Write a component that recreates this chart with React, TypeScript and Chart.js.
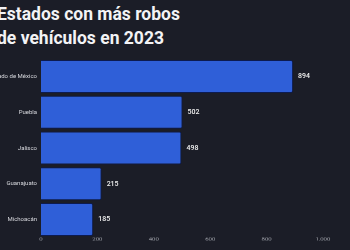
import React, { useEffect, useRef } from "react";
import { Chart, registerables } from "chart.js";

Chart.register(...registerables);

const titleLines = ["Estados con más robos", "de vehículos en 2023"];
const categories = ["Estado de México", "Puebla", "Jalisco", "Guanajuato", "Michoacán"];
const values = [894, 502, 498, 215, 185];
const xTicks = [0, 200, 400, 600, 800, 1000];

const FONT = "Roboto, sans-serif";

const valueLabels = {
  id: "valueLabels",
  afterDatasetsDraw(chart: any) {
    const ctx = chart.ctx;
    const meta = chart.getDatasetMeta(0);
    ctx.save();
    ctx.font = "500 7px " + FONT;
    ctx.fillStyle = "#f2f2f2";
    ctx.textAlign = "left";
    ctx.textBaseline = "middle";
    meta.data.forEach((bar: any, i: number) => {
      ctx.fillText(String(values[i]), bar.x + 5, bar.y);
    });
    ctx.restore();
  },
};

export default function App() {
  const ref = useRef<HTMLCanvasElement>(null);
  useEffect(() => {
    if (!ref.current) return;
    const chart = new Chart(ref.current, {
      type: "bar",
      data: {
        labels: categories,
        datasets: [
          {
            data: values,
            backgroundColor: "#2f5fd8",
            borderColor: "#0d1b4f",
            borderWidth: 1,
            borderRadius: 2,
            borderSkipped: "start",
            categoryPercentage: 1,
            barPercentage: 0.92,
          },
        ],
      },
      options: {
        indexAxis: "y",
        animation: false,
        responsive: true,
        maintainAspectRatio: false,
        layout: { padding: { top: 3, right: 10, left: 0, bottom: 0 } },
        plugins: { legend: { display: false }, tooltip: { enabled: false }, title: { display: false } },
        scales: {
          x: {
            min: 0,
            max: 1000,
            afterBuildTicks(scale: any) {
              scale.ticks = xTicks.map((v) => ({ value: v }));
            },
            grid: { display: false, drawTicks: false },
            border: { display: false },
            ticks: {
              color: "#a9abb3",
              font: { family: FONT, size: 6 },
              padding: -2,
              callback: (v: any) => Number(v).toLocaleString("en-US"),
            },
          },
          y: {
            grid: { display: false, drawTicks: false },
            border: { display: false },
            afterFit(scale: any) {
              scale.width = 49;
            },
            ticks: {
              color: "#d8d9de",
              font: { family: FONT, size: 6 },
              padding: 4,
            },
          },
        },
      },
      plugins: [valueLabels],
    });
    return () => chart.destroy();
  }, []);

  return (
    <div style={{ position: "fixed", left: 0, top: 0, width: 350, height: 250, background: "#1b1d27", overflow: "hidden" }}>
      <div
        style={{
          position: "absolute",
          left: -3,
          top: 2,
          color: "#f3f3f5",
          fontFamily: FONT,
          fontWeight: 700,
          fontSize: 17.5,
          lineHeight: "24px",
          whiteSpace: "nowrap",
        }}
      >
        {titleLines.map((t) => (
          <div key={t}>{t}</div>
        ))}
      </div>
      <div style={{ position: "absolute", left: -8, top: 51, width: 341, height: 194 }}>
        <canvas ref={ref} />
      </div>
    </div>
  );
}
